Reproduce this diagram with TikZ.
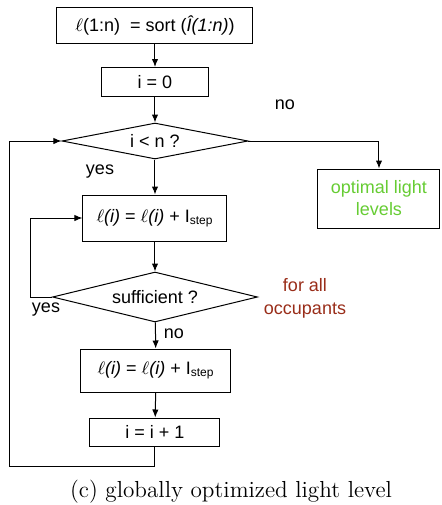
\documentclass[tikz,border=0pt]{standalone}
\usepackage{fontspec}
\newfontfamily\arialfont{Liberation Sans}
\usetikzlibrary{shapes.geometric,arrows.meta}
\definecolor{verdeluz}{RGB}{102,204,51}
\definecolor{vermelho}{RGB}{153,45,25}

\begin{document}
\begin{tikzpicture}[x=0.5pt,y=-0.5pt,>={Latex[length=4pt,width=3.2pt]},
	every node/.style={font=\arialfont\fontsize{9}{11}\selectfont},
	caixa/.style={draw,line width=0.5pt,inner sep=0pt},
	decisao/.style={draw,diamond,aspect=5,line width=0.5pt,inner sep=0pt},
	seta/.style={->,line width=0.5pt}]

	\useasboundingbox (0,0) rectangle (441,505);

% caixas e decisoes
	\node[caixa,minimum width=98pt,minimum height=18pt] (ord) at (155,25) {$\ell$(1:n)\ \ = sort (\textit{Î(1:n)})};
	\node[caixa,minimum width=53.5pt,minimum height=14.5pt] (ini) at (155,82) {i = 0};
	\node[decisao,minimum width=93pt,minimum height=18pt] (menor) at (155,141) {i < n ?};
	\node[caixa,text=verdeluz,align=center,minimum width=61pt,minimum height=29.5pt] (otimo) at (379,198.5) {optimal light\\levels};
	\node[caixa,minimum width=72pt,minimum height=23pt] (soma1) at (155,218) {\textit{$\ell$(i)} = \textit{$\ell$(i)} + I\textsubscript{step}};
	\node[decisao,minimum width=102.5pt,minimum height=25pt] (sufic) at (155,297) {sufficient ?};
	\node[caixa,minimum width=75pt,minimum height=21.5pt] (soma2) at (156,370.5) {\textit{$\ell$(i)} = \textit{$\ell$(i)} + I\textsubscript{step}};
	\node[caixa,minimum width=65pt,minimum height=14pt] (incr) at (155,432) {i = i + 1};

% rotulos
	\node (nao1) at (285,105) {no};
	\node (sim1) at (100,172) {yes};
	\node (sim2) at (46,310) {yes};
	\node (nao2) at (174,334) {no};
	\node[text=vermelho,align=center,font=\arialfont\fontsize{9}{11.5}\selectfont] (todos) at (305,298) {for all\\occupants};
	\node[font=\rmfamily\fontsize{11.6}{14}\selectfont,anchor=base] (legenda) at (231,497) {(c) globally optimized light level};

% setas
	\draw[seta] (ord) -- (ini);
	\draw[seta] (ini) -- (menor);
	\draw[seta] (menor) -- (soma1);
	\draw[seta] (soma1) -- (sufic);
	\draw[seta] (sufic) -- (soma2);
	\draw[seta] (soma2) -- (incr);
	\draw[seta] (menor.east) -| (otimo.north);
	\draw[seta] (sufic.west) -- ++(-21,0) |- (soma1.west);
	\coordinate (canto) at (9,466);
	\draw[seta] (incr.south) |- (canto) |- (menor.west);

\end{tikzpicture}
\end{document}
